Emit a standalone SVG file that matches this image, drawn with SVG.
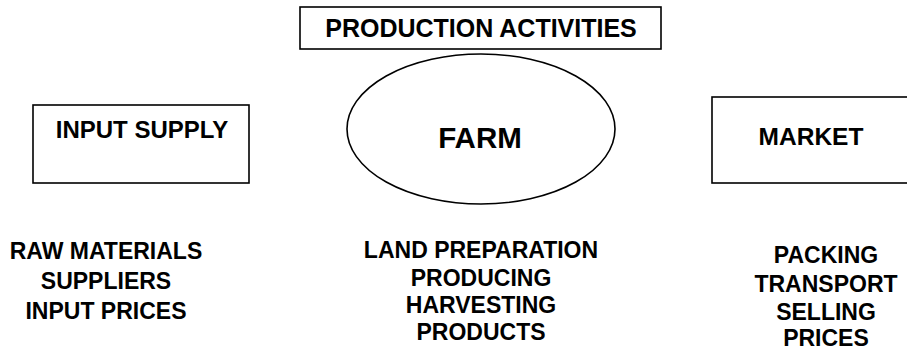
<svg xmlns="http://www.w3.org/2000/svg" width="907" height="350" viewBox="0 0 907 350">
  <style>
    .box { fill: #ffffff; stroke: #000000; stroke-width: 1.6; }
    .title { font-family: "Liberation Sans", Arial, sans-serif; font-weight: bold; fill: #000000; text-anchor: middle; }
    .list { font-family: "Liberation Sans", Arial, sans-serif; font-weight: bold; font-size: 23px; fill: #000000; text-anchor: middle; }
  </style>
  <rect width="907" height="350" fill="#ffffff"/>

  <g id="production-activities">
    <rect class="box" x="300" y="7" width="361" height="42"/>
    <text class="title" x="481" y="37" font-size="25">PRODUCTION ACTIVITIES</text>
  </g>

  <g id="input-supply">
    <rect class="box" x="33" y="105" width="216" height="78"/>
    <text class="title" x="142" y="138" font-size="24">INPUT SUPPLY</text>
  </g>

  <g id="farm">
    <ellipse class="box" cx="481" cy="129" rx="134" ry="75"/>
    <text class="title" x="480" y="148" font-size="29.5">FARM</text>
  </g>

  <g id="market">
    <rect class="box" x="712" y="97" width="210" height="86"/>
    <text class="title" x="811" y="145" font-size="24.5">MARKET</text>
  </g>

  <g id="input-supply-items">
    <text class="list" x="106" y="259">RAW MATERIALS</text>
    <text class="list" x="106" y="289">SUPPLIERS</text>
    <text class="list" x="106" y="319">INPUT PRICES</text>
  </g>

  <g id="farm-items">
    <text class="list" x="481" y="258" font-size="24">LAND PREPARATION</text>
    <text class="list" x="481" y="286" font-size="24">PRODUCING</text>
    <text class="list" x="481" y="313" font-size="24">HARVESTING</text>
    <text class="list" x="481" y="340" font-size="24">PRODUCTS</text>
  </g>

  <g id="market-items">
    <text class="list" x="826" y="263">PACKING</text>
    <text class="list" x="826" y="292">TRANSPORT</text>
    <text class="list" x="826" y="320">SELLING</text>
    <text class="list" x="826" y="346">PRICES</text>
  </g>

  <g id="connectors"></g>
</svg>
